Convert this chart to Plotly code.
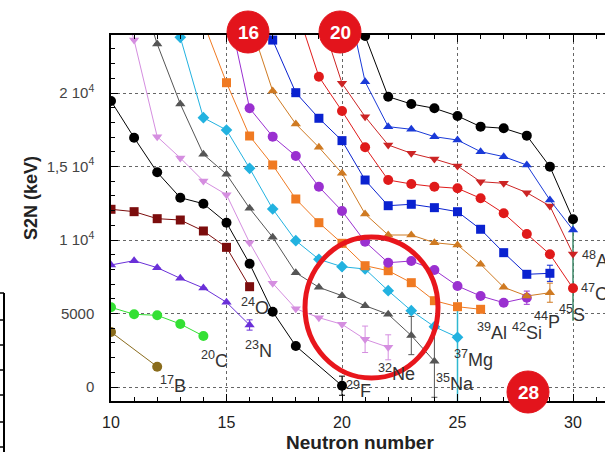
import plotly.graph_objects as go

# ---------------- data (S2N in keV vs neutron number) ----------------
N_B = [10, 12]
S_B = [3740, 1383]

N_C = [10, 11, 12, 13, 14]
S_C = [5420, 4945, 4877, 4286, 3470]

N_N = [10, 11, 12, 13, 14, 15, 16]
S_N = [8300, 8594, 8118, 7394, 6735, 5762, 4218]
E_N = [None, None, None, None, None, None, 350]

N_O = [10, 11, 12, 13, 14, 15, 16]
S_O = [12089, 11927, 11450, 11360, 10613, 9500, 6824]

N_F = [10, 11, 12, 13, 14, 15, 16, 17, 18, 20]
S_F = [19456, 16960, 14606, 12878, 12470, 11178, 8388, 5123, 2789, 88]
E_F = [None] * 9 + [650]

N_Ne = [10, 11, 12, 13, 14, 15, 16, 17, 18, 19, 20, 21, 22]
S_Ne = [28500, 23600, 17030, 15580, 14015, 13082, 9817, 7055, 5327, 4715, 4265, 3245, 2700]
E_Ne = [None] * 11 + [900, 850]

N_Na = [11, 12, 13, 14, 15, 16, 17, 18, 19, 20, 21, 22, 23, 24]
S_Na = [28200, 23335, 19253, 15830, 14470, 12157, 10184, 7776, 6782, 6211, 5531, 4946, 3500, 1750]
E_Na = [None] * 12 + [1300, 2450]

N_Mg = [12, 13, 14, 15, 16, 17, 18, 19, 20, 21, 22, 23, 24, 25]
S_Mg = [29700, 23790, 18320, 17484, 14878, 12109, 9953, 8687, 8184, 8027, 6551, 5190, 4102, 3381]
N_Mg_bar = [25, 25]
S_Mg_bar = [5460, -1200]

N_Al = [14, 15, 16, 17, 18, 19, 20, 21, 22, 23, 24, 25, 26]
S_Al = [24800, 20700, 17075, 15102, 12789, 11178, 9776, 8252, 7912, 7096, 5871, 5463, 5286]

N_Si = [15, 16, 17, 18, 19, 20, 21, 22, 23, 24, 25, 26, 27, 28]
S_Si = [26200, 18960, 17030, 15715, 13620, 11973, 9885, 8456, 8572, 7960, 6871, 6190, 5735, 6075]
E_Si = [None] * 13 + [450]

N_P = [16, 17, 18, 19, 20, 21, 22, 23, 24, 25, 26, 27, 28, 29]
S_P = [24900, 20137, 17892, 16306, 14538, 11770, 10340, 10340, 9817, 9660, 8347, 6783, 6190, 6415]
E_P = [None] * 13 + [650]

N_S = [16, 17, 18, 19, 20, 21, 22, 23, 24, 25, 26, 27, 28, 29]
S_S = [26200, 23600, 20021, 18280, 16760, 14080, 12333, 12430, 12200, 11925, 10730, 9138, 7667, 7735]
E_S = [None] * 13 + [550]

N_Cl = [18, 19, 20, 21, 22, 23, 24, 25, 26, 27, 28, 29, 30]
S_Cl = [25900, 21110, 18776, 16306, 14080, 13810, 13627, 13516, 12836, 11816, 10408, 9027, 6714]

N_Ar = [19, 20, 21, 22, 23, 24, 25, 26, 27, 28, 29, 30]
S_Ar = [25500, 20660, 18390, 16465, 15897, 15510, 15034, 13967, 13858, 13219, 12313, 9048]

N_K = [20, 21, 22, 23, 24, 25, 26, 27, 28, 29, 30]
S_K = [28000, 20770, 17710, 17530, 17030, 16800, 16010, 15670, 15100, 12720, 10680]

N_Ca = [20, 21, 22, 23, 24, 25, 26, 27, 28, 29, 30]
S_Ca = [29000, 23880, 19750, 19250, 18960, 18436, 17710, 17600, 17100, 14990, 11410]

N_30_bar = [30, 30]
S_30_bar = [11410, 4500]

Y_TICKS = [0, 5000, 10000, 15000, 20000]
Y_TICKTEXT = ["0", "5000", "1 10<sup>4</sup>", "1,5 10<sup>4</sup>", "2 10<sup>4</sup>"]

LABELS = [  # (text, x px, y px, anchor)
    ("<sup>17</sup>B", 173, 384, "center"),
    ("<sup>20</sup>C", 214, 359, "center"),
    ("<sup>23</sup>N", 258, 349, "center"),
    ("<sup>24</sup>O", 255, 306, "center"),
    ("<sup>29</sup>F", 358, 389, "center"),
    ("<sup>32</sup>Ne", 396, 372, "center"),
    ("<sup>35</sup>Na", 455, 382, "center"),
    ("<sup>37</sup>Mg", 473, 358, "center"),
    ("<sup>39</sup>Al", 492, 331, "center"),
    ("<sup>42</sup>Si", 527, 331, "center"),
    ("<sup>44</sup>P", 547, 320, "center"),
    ("<sup>45</sup>S", 572, 313, "center"),
    ("<sup>47</sup>Cl", 579, 292, "left"),
    ("<sup>48</sup>Ar", 580, 259, "left"),
]
BADGES = [("16", 248, 32), ("20", 340, 32), ("28", 528, 392)]

# ---------------- geometry ----------------
W, H = 605, 457
L, R, T, B = 111, 605, 35, 401


def px(xp):
    return (xp - L) / (R - L)


def py(yp):
    return (B - yp) / (B - T)


fig = go.Figure()


def chain(n, s, color, symbol, size, err=None, dash="solid"):
    tr = dict(x=n, y=s, mode="lines+markers",
              line=dict(color=color, width=1, dash=dash),
              marker=dict(color=color, symbol=symbol, size=size, line=dict(width=0)),
              showlegend=False, hoverinfo="skip")
    if err is not None:
        tr["error_y"] = dict(type="data", array=err, visible=True, color=color,
                             thickness=1, width=3)
    fig.add_trace(go.Scatter(**tr))


def bar(n, s, color):
    fig.add_trace(go.Scatter(x=n, y=s, mode="lines", line=dict(color=color, width=1.5),
                             showlegend=False, hoverinfo="skip"))


bar(N_Mg_bar, S_Mg_bar, "#2fb8d0")
bar(N_30_bar, S_30_bar, "#3f8a6a")

chain(N_B, S_B, "#8a6c1c", "circle", 10)
chain(N_C, S_C, "#33e033", "circle", 10)
chain(N_N, S_N, "#6a30d8", "triangle-up", 9, E_N)
chain(N_O, S_O, "#7c0d0d", "square", 9)
chain(N_F, S_F, "#000000", "circle", 10, E_F)
chain(N_Ne, S_Ne, "#d58ee0", "triangle-down", 9, E_Ne)
chain(N_Na, S_Na, "#555555", "triangle-up", 9, E_Na)
chain(N_Mg, S_Mg, "#22b2e0", "diamond", 9)
chain(N_Al, S_Al, "#f07a22", "square", 9)
chain(N_Si, S_Si, "#9a30d0", "circle", 10, E_Si)
chain(N_P, S_P, "#cf7a22", "triangle-up", 9, E_P)
chain(N_S, S_S, "#0a22d0", "square", 9, E_S)
chain(N_Cl, S_Cl, "#e01a1a", "circle", 10)
chain(N_Ar, S_Ar, "#cc2424", "triangle-down", 9)
chain(N_K, S_K, "#1a3ad8", "triangle-up", 9)
chain(N_Ca, S_Ca, "#000000", "circle", 10)

FONT = "Liberation Sans, Arial, sans-serif"

fig.update_xaxes(
    range=[10, 10 + (R - L) / 23.1], tick0=10, dtick=5, ticks="inside", ticklen=7,
    tickwidth=1, tickcolor="black", showline=True, linecolor="black", linewidth=1.5,
    mirror="allticks", showgrid=True, gridcolor="#666", griddash="dot", gridwidth=1,
    zeroline=False, tickfont=dict(size=16, color="#222", family=FONT),
    ticklabelstandoff=6,
    minor=dict(dtick=1, ticks="inside", ticklen=4, tickcolor="black", showgrid=False),
)
ymax = (387 - T) / 0.0147
ymin = -(B - 387) / 0.0147
fig.update_yaxes(
    range=[ymin, ymax], tickvals=Y_TICKS, ticktext=Y_TICKTEXT, ticks="inside", ticklen=7,
    tickcolor="black", showline=True, linecolor="black", linewidth=1.5, mirror=False,
    showgrid=True, gridcolor="#666", griddash="dot", gridwidth=1, zeroline=False,
    tickfont=dict(size=15, color="#444", family=FONT), ticklabelstandoff=12,
    minor=dict(dtick=1000, ticks="inside", ticklen=4, tickcolor="black", showgrid=False),
)

shapes = []
# big red ring
shapes.append(dict(type="circle", xref="paper", yref="paper",
                   x0=px(305), x1=px(438), y0=py(378), y1=py(237),
                   line=dict(color="#e8161c", width=5)))
for txt, cx, cy in BADGES:
    shapes.append(dict(type="circle", xref="paper", yref="paper",
                       x0=px(cx - 21), x1=px(cx + 21), y0=py(cy + 21), y1=py(cy - 21),
                       fillcolor="#e3141c", line=dict(color="#e3141c", width=1)))
# clipped fragment of neighbouring frame, left bottom
shapes.append(dict(type="line", xref="paper", yref="paper", x0=px(4), x1=px(4),
                   y0=py(293), y1=py(452), line=dict(color="black", width=2)))
for yy in [293, 320, 345, 370, 395, 422, 447]:
    shapes.append(dict(type="line", xref="paper", yref="paper", x0=px(-1), x1=px(4),
                       y0=py(yy), y1=py(yy), line=dict(color="black", width=1.5)))

ann = []
for txt, cx, cy, anc in LABELS:
    ann.append(dict(text=txt, xref="paper", yref="paper", x=px(cx), y=py(cy),
                    xanchor=anc, yanchor="middle", showarrow=False,
                    font=dict(size=18, color="#333", family=FONT)))
for txt, cx, cy in BADGES:
    ann.append(dict(text="<b>%s</b>" % txt, xref="paper", yref="paper", x=px(cx), y=py(cy),
                    xanchor="center", yanchor="middle", showarrow=False,
                    font=dict(size=19, color="white", family=FONT)))
ann.append(dict(text="<b>Neutron number</b>", xref="paper", yref="paper", x=px(360), y=py(442),
                xanchor="center", yanchor="middle", showarrow=False,
                font=dict(size=19, color="#222", family=FONT)))
ann.append(dict(text="<b>S2N (keV)</b>", xref="paper", yref="paper", x=px(31), y=py(198),
                xanchor="center", yanchor="middle", showarrow=False, textangle=-90,
                font=dict(size=18, color="#222", family=FONT)))

fig.update_layout(width=W, height=H, margin=dict(l=L, r=W - R, t=T, b=H - B),
                  paper_bgcolor="white", plot_bgcolor="white",
                  shapes=shapes, annotations=ann, showlegend=False)

fig.write_html("out.html")
